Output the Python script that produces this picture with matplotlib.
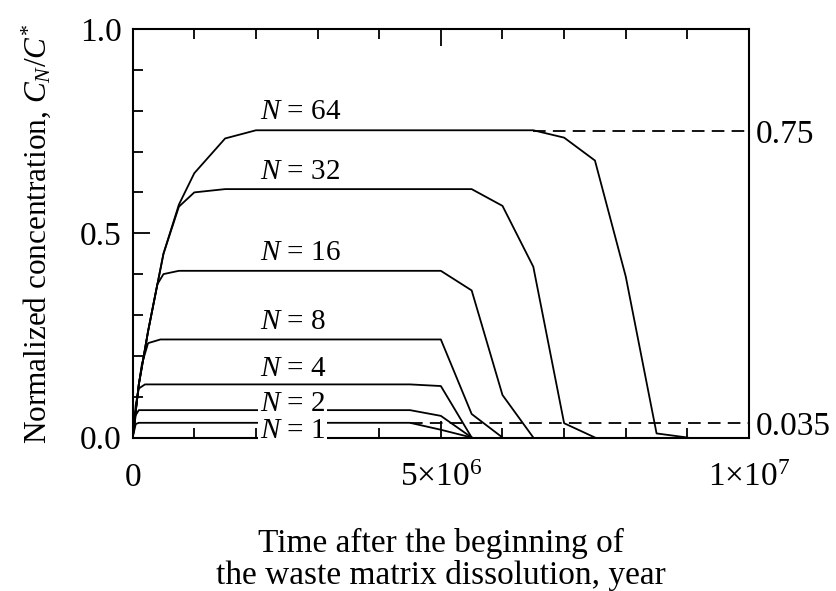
import matplotlib
matplotlib.use("Agg")
import matplotlib.pyplot as plt
from matplotlib.ticker import MultipleLocator, FixedLocator

plt.rcParams['font.family'] = ['Liberation Serif', 'DejaVu Serif']
plt.rcParams['mathtext.fontset'] = 'custom'
plt.rcParams['mathtext.rm'] = 'Liberation Serif'
plt.rcParams['mathtext.it'] = 'Liberation Serif:italic'

# time in years, normalized concentration C_N/C*
t64 = [0, 0.1e6, 0.25e6, 0.5e6, 0.75e6, 1.0e6, 1.5e6, 2.0e6, 6.5e6, 7.0e6, 7.5e6, 8.0e6, 8.5e6, 9.0e6]
c64 = [0, 0.13, 0.26, 0.45, 0.57, 0.647, 0.732, 0.752, 0.752, 0.734, 0.678, 0.394, 0.01, 0.0]
t32 = [0, 0.1e6, 0.25e6, 0.5e6, 0.75e6, 1.0e6, 1.5e6, 5.5e6, 6.0e6, 6.5e6, 7.0e6, 7.5e6]
c32 = [0, 0.13, 0.26, 0.45, 0.565, 0.60, 0.608, 0.608, 0.567, 0.418, 0.035, 0.0]
t16 = [0, 0.1e6, 0.25e6, 0.4e6, 0.5e6, 0.75e6, 5.0e6, 5.5e6, 6.0e6, 6.5e6]
c16 = [0, 0.13, 0.26, 0.375, 0.40, 0.408, 0.408, 0.36, 0.104, 0.0]
t8 = [0, 0.1e6, 0.15e6, 0.25e6, 0.45e6, 5.0e6, 5.5e6, 6.0e6]
c8 = [0, 0.13, 0.18, 0.231, 0.24, 0.24, 0.0575, 0.0]
t4 = [0, 0.05e6, 0.1e6, 0.2e6, 4.5e6, 5.0e6, 5.5e6]
c4 = [0, 0.08, 0.12, 0.13, 0.13, 0.126, 0.0]
t2 = [0, 0.05e6, 0.1e6, 4.5e6, 5.0e6, 5.5e6]
c2 = [0, 0.055, 0.067, 0.067, 0.053, 0.0]
t1 = [0, 0.05e6, 0.1e6, 4.5e6, 5.0e6, 5.5e6]
c1 = [0, 0.033, 0.036, 0.036, 0.019, 0.0]

curves = [(t64, c64), (t32, c32), (t16, c16), (t8, c8), (t4, c4), (t2, c2), (t1, c1)]
labels = ["64", "32", "16", "8", "4", "2", "1"]
label_y = [0.796, 0.649, 0.452, 0.282, 0.168, 0.082, 0.016]
label_x = 2.06e6

ref_levels = [0.75, 0.035]
ref_start = [6.5e6, 4.5e6]
ref_labels = ["0.75", "0.035"]

fig = plt.figure(figsize=(8.37, 5.91), dpi=100)
ax = fig.add_axes([0.1585, 0.2597, 0.7364, 0.6913])

for t, c in curves:
    ax.plot(t, c, color='black', lw=1.3)

for lev, x0 in zip(ref_levels, ref_start):
    ax.plot([x0, 1e7], [lev, lev], color='black', lw=1.3, dashes=(7, 4))

for lab, y in zip(labels, label_y):
    ax.text(label_x, y, r"$N$ = " + lab, fontsize=21, ha='left', va='center',
            zorder=10, clip_on=False,
            bbox=dict(facecolor='white', edgecolor='none', pad=1.0))

ax.set_xlim(0, 1e7)
ax.set_ylim(0, 1.0)
ax.xaxis.set_major_locator(FixedLocator([0, 5e6, 1e7]))
ax.xaxis.set_minor_locator(MultipleLocator(1e6))
ax.set_xticklabels(["0", r"$5{\times}10^6$", r"$1{\times}10^7$"])
ax.yaxis.set_major_locator(FixedLocator([0, 0.5, 1.0]))
ax.yaxis.set_minor_locator(MultipleLocator(0.1))
ax.set_yticklabels(["0.0", "0.5", "1.0"])
ax.tick_params(which='both', direction='in', top=True, right=True, width=1.3,
               labelsize=24)
ax.tick_params(which='major', length=12)
ax.tick_params(which='minor', length=7)
ax.tick_params(axis='x', which='major', pad=18)
ax.tick_params(axis='y', which='major', pad=8)
for s in ax.spines.values():
    s.set_linewidth(1.5)

ax2 = ax.twinx()
ax2.set_ylim(0, 1.0)
ax2.yaxis.set_major_locator(FixedLocator(ref_levels))
ax2.set_yticklabels(ref_labels)
ax2.tick_params(axis='y', length=0, pad=5, labelsize=24)
for s in ax2.spines.values():
    s.set_visible(False)

ax.set_ylabel(r"Normalized concentration, $C_N/C^{*}$", fontsize=22.5, labelpad=19)
ax.set_xlabel("Time after the beginning of\nthe waste matrix dissolution, year",
              fontsize=24, labelpad=25, linespacing=1.03)

fig.savefig("out.png", dpi=100)
